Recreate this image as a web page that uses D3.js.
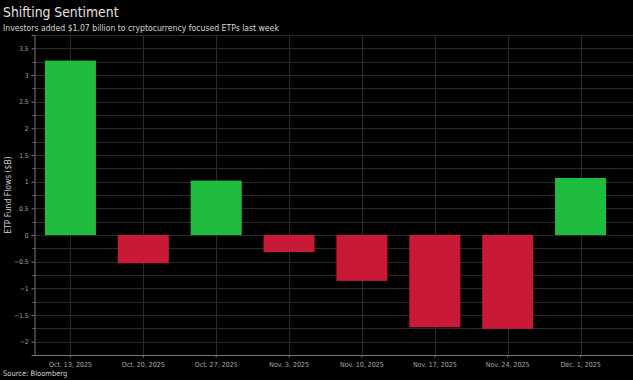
<!DOCTYPE html>
<html>
<head>
<meta charset="utf-8">
<script src="https://cdn.jsdelivr.net/npm/d3@7"></script>
<style>
  body { margin: 0; background: #000; }
  svg { display: block; font-family: "Liberation Sans Narrow", "DejaVu Sans Condensed", sans-serif; }
</style>
</head>
<body>
<svg id="chart" width="633" height="380"></svg>
<script>
const weeks = ['Oct. 13, 2025', 'Oct. 20, 2025', 'Oct. 27, 2025', 'Nov. 3, 2025',
               'Nov. 10, 2025', 'Nov. 17, 2025', 'Nov. 24, 2025', 'Dec. 1, 2025'];
const flows = [3.27, -0.53, 1.02, -0.32, -0.86, -1.73, -1.76, 1.07];
const yTicks = [-2, -1.5, -1, -0.5, 0, 0.5, 1, 1.5, 2, 2.5, 3, 3.5];

const width = 633;
const height = 380;
const plotLeft = 34, plotRight = 617, plotTop = 35, plotBottom = 355;
const font = '"Liberation Sans Narrow", "DejaVu Sans Condensed", sans-serif';

const svg = d3.select('#chart');

svg.append('rect')
    .attr('width', width)
    .attr('height', height)
    .attr('fill', '#000');

let x = d3.scaleBand()
    .domain(weeks)
    .range([plotLeft, plotRight])
    .paddingInner(0.3)
    .paddingOuter(0.15);

let y = d3.scaleLinear()
    .domain([-2.25, 3.75])
    .range([plotBottom, plotTop]);

// horizontal grid every 0.25
let minor = d3.range(-2, 3.76, 0.25);
svg.append('g')
    .selectAll('line')
    .data(minor)
    .join('line')
    .attr('x1', plotLeft)
    .attr('x2', width)
    .attr('y1', d => Math.round(y(d)) + 0.5)
    .attr('y2', d => Math.round(y(d)) + 0.5)
    .attr('stroke', '#2b2b2b')
    .attr('stroke-width', 1);

// vertical grid at week centres
svg.append('g')
    .selectAll('line')
    .data(weeks)
    .join('line')
    .attr('x1', d => Math.round(x(d) + x.bandwidth() / 2) + 0.5)
    .attr('x2', d => Math.round(x(d) + x.bandwidth() / 2) + 0.5)
    .attr('y1', plotTop)
    .attr('y2', plotBottom)
    .attr('stroke', '#2b2b2b')
    .attr('stroke-width', 1);

// bars
svg.append('g')
    .selectAll('rect')
    .data(flows)
    .join('rect')
    .attr('x', (d, i) => x(weeks[i]))
    .attr('width', x.bandwidth())
    .attr('y', d => y(Math.max(0, d)))
    .attr('height', d => Math.abs(y(d) - y(0)))
    .attr('fill', d => d >= 0 ? '#1fbd3f' : '#c81a36');

// y axis
let yAxis = d3.axisLeft(y)
    .tickValues(yTicks)
    .tickSize(3)
    .tickFormat(d => d3.format('')(d));

let gy = svg.append('g')
    .attr('transform', `translate(${plotLeft + 0.5},0)`)
    .call(yAxis);
gy.select('.domain').attr('stroke', '#777');
gy.selectAll('.tick line').attr('stroke', '#777');
gy.selectAll('.tick text')
    .attr('fill', '#aaa')
    .attr('font-size', 6.5)
    .attr('font-family', font);

// minor y ticks
svg.append('g')
    .selectAll('line')
    .data(minor.filter(d => !yTicks.includes(d)))
    .join('line')
    .attr('x1', plotLeft - 1.5)
    .attr('x2', plotLeft + 0.5)
    .attr('y1', d => Math.round(y(d)) + 0.5)
    .attr('y2', d => Math.round(y(d)) + 0.5)
    .attr('stroke', '#777');

// x axis
let xAxis = d3.axisBottom(x)
    .tickSize(2)
    .tickSizeOuter(0);

let gx = svg.append('g')
    .attr('transform', `translate(0,${plotBottom + 0.5})`)
    .call(xAxis);
gx.select('.domain').attr('d', `M${plotLeft},0H${width}`).attr('stroke', '#777');
gx.selectAll('.tick line').attr('stroke', '#777');
gx.selectAll('.tick text')
    .attr('fill', '#aaa')
    .attr('font-size', 7)
    .attr('dy', '0.9em')
    .attr('font-family', font);

// titles
svg.append('text')
    .attr('x', 3)
    .attr('y', 17)
    .attr('fill', '#e6e6e6')
    .attr('font-size', 13.8)
    .text('Shifting Sentiment');

svg.append('text')
    .attr('x', 3)
    .attr('y', 31)
    .attr('fill', '#d6d6d6')
    .attr('font-size', 8.6)
    .text('Investors added $1.07 billion to cryptocurrency focused ETPs last week');

svg.append('text')
    .attr('transform', `translate(11,${(plotTop + plotBottom) / 2}) rotate(-90)`)
    .attr('text-anchor', 'middle')
    .attr('fill', '#cfcfcf')
    .attr('font-size', 8.5)
    .text('ETP Fund Flows ($B)');

svg.append('text')
    .attr('x', 3)
    .attr('y', 376)
    .attr('fill', '#cfcfcf')
    .attr('font-size', 7.5)
    .text('Source: Bloomberg');
</script>
</body>
</html>
